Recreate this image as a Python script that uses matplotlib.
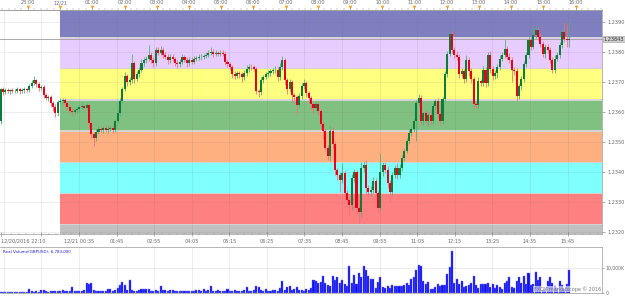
import numpy as np
import matplotlib
matplotlib.use("Agg")
import matplotlib.pyplot as plt
from matplotlib.patches import Rectangle
import matplotlib.transforms as mtransforms

# ---------------- data ----------------
first_open = 1.23571
closes = [
    1.23676, 1.23666, 1.23673, 1.23670, 1.23673, 1.23670, 1.23671, 1.23676, 1.23670, 1.23673, 1.23676,
    1.23673, 1.23686, 1.23696, 1.23706, 1.23693, 1.23680, 1.23683, 1.23657, 1.23647, 1.23650,
    1.23630, 1.23617, 1.23597, 1.23634, 1.23637, 1.23640, 1.23630, 1.23617, 1.23604, 1.23601,
    1.23607, 1.23610, 1.23617, 1.23620, 1.23614, 1.23624, 1.23564, 1.23528, 1.23515, 1.23535,
    1.23545, 1.23541, 1.23548, 1.23541, 1.23545, 1.23548, 1.23541, 1.23571, 1.23597, 1.23637,
    1.23676, 1.23719, 1.23699, 1.23706, 1.23762, 1.23712, 1.23726, 1.23742, 1.23762, 1.23772,
    1.23778, 1.23791, 1.23775, 1.23762, 1.23808, 1.23798, 1.23808, 1.23791, 1.23785, 1.23772,
    1.23785, 1.23778, 1.23765, 1.23759, 1.23768, 1.23782, 1.23775, 1.23762, 1.23775, 1.23768,
    1.23778, 1.23780, 1.23782, 1.23785, 1.23788, 1.23791, 1.23798, 1.23801, 1.23795, 1.23798, 1.23795,
    1.23798, 1.23795, 1.23768, 1.23759, 1.23749, 1.23726, 1.23722, 1.23729, 1.23726, 1.23716,
    1.23729, 1.23745, 1.23752, 1.23749, 1.23745, 1.23670, 1.23666, 1.23706, 1.23716, 1.23726,
    1.23732, 1.23736, 1.23739, 1.23742, 1.23716, 1.23749, 1.23772, 1.23706, 1.23676, 1.23699, 1.23657,
    1.23650, 1.23624, 1.23653, 1.23686, 1.23696, 1.23663, 1.23647, 1.23627, 1.23614, 1.23627,
    1.23604, 1.23561, 1.23538, 1.23482, 1.23453, 1.23538, 1.23495, 1.23407, 1.23390, 1.23374,
    1.23397, 1.23331, 1.23308, 1.23291, 1.23380, 1.23400, 1.23281, 1.23268, 1.23413, 1.23423,
    1.23347, 1.23334, 1.23341, 1.23370, 1.23331, 1.23281, 1.23400, 1.23423, 1.23407, 1.23364,
    1.23334, 1.23390, 1.23416, 1.23390, 1.23416, 1.23449, 1.23472, 1.23505, 1.23532, 1.23545,
    1.23571, 1.23630, 1.23647, 1.23571, 1.23597, 1.23571, 1.23591, 1.23571, 1.23620, 1.23637,
    1.23594, 1.23571, 1.23643, 1.23726, 1.23795, 1.23861, 1.23808, 1.23791, 1.23785, 1.23726,
    1.23736, 1.23709, 1.23775, 1.23736, 1.23709, 1.23627, 1.23624, 1.23703, 1.23696,
    1.23742, 1.23696, 1.23791, 1.23745, 1.23719, 1.23729, 1.23752, 1.23778, 1.23791,
    1.23811, 1.23785, 1.23775, 1.23742, 1.23736, 1.23653, 1.23686, 1.23709, 1.23759, 1.23791,
    1.23841, 1.23818, 1.23857, 1.23874, 1.23851, 1.23828, 1.23795, 1.23818, 1.23808,
    1.23775, 1.23742, 1.23778, 1.23791, 1.23824, 1.23867, 1.23844, 1.23841, 1.23843,
]
upper_wick_pips = [
    0.5, 0.8, 0.6, 0.8, 0.5, 0.7, 0.6, 0.9, 0.6, 0.8, 0.7,
    0.6, 0.9, 1.0, 1.3, 0.6, 0.8, 0.7, 0.9, 0.6, 0.8,
    0.7, 0.6, 0.9, 0.8, 1.0, 0.7, 0.6, 0.8, 0.7, 0.9,
    0.8, 0.6, 0.7, 0.9, 0.8, 0.6, 0.5, 0.7, 0.6, 0.9,
    0.8, 1.0, 0.7, 0.8, 0.9, 0.6, 0.8, 0.7, 0.9, 1.0,
    0.8, 1.5, 0.9, 1.0, 3.0, 0.8, 1.2, 0.9, 1.5, 1.0,
    0.8, 3.3, 1.0, 0.8, 1.0, 0.9, 1.1, 0.8, 1.0, 0.7,
    0.9, 0.8, 0.7, 1.0, 0.8, 1.2, 0.9, 0.7, 1.0, 0.8,
    0.9, 0.8, 1.0, 0.8, 0.7, 0.9, 1.0, 1.6, 0.8, 0.9, 0.7,
    0.8, 1.0, 0.7, 0.9, 0.8, 0.7, 1.0, 0.8, 0.9, 0.7,
    1.0, 1.2, 0.9, 0.8, 0.7, 0.6, 0.8, 1.0, 0.9, 0.8,
    1.0, 0.9, 0.9, 1.2, 0.8, 1.5, 1.6, 0.7, 0.8, 1.0, 0.9,
    0.8, 0.7, 1.0, 1.0, 1.3, 0.8, 0.9, 0.7, 0.8, 1.0,
    0.8, 0.7, 0.9, 0.8, 1.0, 1.5, 1.2, 0.9, 0.8, 1.0,
    3.3, 0.9, 1.0, 0.8, 1.5, 1.2, 0.9, 1.0, 2.0, 1.6,
    1.8, 1.0, 1.2, 1.5, 1.0, 0.8, 6.3, 1.2, 1.0, 1.5,
    1.0, 1.2, 1.0, 1.5, 1.2, 1.0, 0.9, 1.0, 1.2, 0.8,
    1.0, 0.9, 1.2, 1.0, 0.8, 1.0, 0.9, 1.2, 1.0, 0.8,
    1.0, 1.1, 0.9, 1.0, 0.9, 0.7, 1.0, 1.0, 1.2, 0.9,
    1.0, 0.8, 1.6, 1.0, 1.2, 0.9, 1.0, 1.5, 0.9,
    1.2, 0.9, 1.0, 1.3, 0.9, 1.0, 0.8, 1.2, 1.0,
    3.3, 1.0, 1.2, 0.9, 1.0, 1.0, 0.9, 1.2, 1.0, 1.0,
    0.9, 1.0, 2.6, 1.6, 1.0, 1.2, 0.9, 1.0, 0.8,
    1.0, 0.9, 1.2, 1.0, 0.9, 1.0, 3.3, 5.0, 5.6,
]
lower_wick_pips = [
    1.0, 0.8, 0.7, 0.6, 0.8, 0.7, 0.7, 0.6, 0.9, 0.7, 0.8,
    0.7, 0.6, 0.5, 0.6, 0.8, 0.9, 0.7, 1.0, 0.8, 0.9,
    1.0, 1.2, 1.3, 0.8, 0.7, 0.9, 1.0, 1.0, 0.8, 0.9,
    0.7, 0.8, 0.9, 0.6, 0.8, 0.7, 1.5, 1.5, 2.6, 1.0,
    0.9, 0.8, 1.0, 0.8, 0.9, 0.7, 1.0, 0.8, 0.7, 0.9,
    0.8, 0.7, 1.2, 0.9, 0.8, 1.5, 0.9, 0.8, 0.7, 0.8,
    0.9, 0.8, 1.0, 1.2, 0.7, 0.9, 0.8, 1.0, 0.9, 1.1,
    0.8, 0.9, 1.0, 1.2, 0.8, 0.7, 0.9, 1.0, 0.8, 0.9,
    0.8, 0.8, 0.7, 0.9, 0.8, 0.7, 0.8, 0.9, 1.0, 0.8, 0.9,
    0.9, 0.8, 1.2, 1.0, 1.0, 1.3, 1.0, 0.9, 1.2, 1.5,
    0.8, 0.9, 1.0, 0.8, 0.9, 1.0, 1.5, 0.8, 0.9, 0.7,
    0.8, 1.0, 0.9, 0.8, 1.2, 0.9, 0.8, 1.4, 1.6, 1.0, 2.6,
    1.2, 3.0, 1.0, 0.9, 0.8, 1.2, 1.5, 2.0, 1.5, 1.0,
    1.2, 1.6, 2.6, 1.0, 1.3, 1.5, 1.8, 1.5, 1.6, 4.0,
    1.0, 1.2, 2.3, 3.3, 1.5, 1.2, 1.8, 3.6, 1.5, 1.2,
    2.0, 1.5, 1.2, 1.0, 2.0, 1.5, 1.0, 1.2, 1.0, 1.5,
    3.3, 1.2, 1.0, 1.3, 1.0, 1.2, 1.0, 0.9, 1.0, 1.2,
    1.0, 6.6, 1.0, 1.5, 1.2, 1.5, 1.8, 1.2, 1.0, 1.3,
    1.2, 1.5, 1.0, 0.9, 0.8, 0.7, 1.0, 1.2, 1.0, 1.3,
    1.0, 1.2, 1.0, 1.4, 1.2, 1.3, 1.0, 1.2, 1.0,
    1.0, 1.2, 1.0, 1.4, 1.2, 1.0, 1.5, 1.2, 0.9,
    1.0, 1.2, 1.0, 4.0, 1.2, 1.5, 1.0, 1.2, 0.9, 1.0,
    1.0, 1.2, 0.9, 1.0, 1.2, 1.0, 1.3, 1.5, 1.0,
    1.2, 1.0, 1.2, 0.9, 1.0, 1.2, 1.0, 2.3, 2.3,
]
volumes_k = [
    400, 300, 500, 300, 400, 300, 500, 400, 300, 600,
    400, 500, 1600, 800, 600, 700, 500, 1200, 1200, 900,
    600, 700, 1000, 900, 1000, 800, 1200, 900, 1000, 700,
    2400, 800, 1000, 900, 700, 1100, 4000, 3800, 4000, 1200,
    1000, 900, 800, 1000, 700, 1500, 1700, 1000, 1400, 2000,
    3400, 4400, 3200, 1400, 5200, 1200, 1000, 900, 1400, 1500,
    1600, 1500, 1600, 1000, 900, 1200, 800, 2800, 1400, 1200,
    1000, 1400, 1200, 1000, 900, 700, 1000, 800, 900, 700,
    1000, 800, 1200, 1100, 900, 1500, 1000, 1200, 2800, 1000,
    900, 1100, 800, 900, 1000, 1600, 1000, 900, 1100, 800,
    700, 900, 1200, 2400, 1000, 900, 1200, 2800, 2600, 1200,
    900, 1600, 1000, 900, 1100, 1300, 1000, 2000, 4800, 1200,
    2400, 2800, 1400, 1600, 2400, 1100, 1300, 1000, 1600, 1200,
    2000, 5200, 4800, 4000, 4400, 6800, 4000, 3200, 3000, 6800,
    5200, 6400, 4000, 5200, 3600, 2800, 10800, 4000, 7200, 3600,
    8000, 6400, 10800, 9200, 6800, 5600, 5600, 2000, 4400, 6400,
    2400, 2000, 2800, 2000, 3200, 2800, 2800, 2800, 2800, 3200,
    4000, 3200, 5600, 6400, 9200, 11200, 10800, 4800, 3600, 4400,
    1600, 1600, 2400, 3600, 3000, 3200, 3200, 7600, 10400, 17000,
    4000, 5600, 3600, 4800, 2400, 2800, 3200, 4000, 6800, 3200,
    2000, 3600, 3600, 3600, 4000, 2400, 3600, 2000, 3200, 2400,
    1600, 4000, 4800, 6400, 2400, 2000, 4800, 6400, 4000, 6800,
    3600, 8000, 3200, 3600, 8400, 5200, 6400, 1200, 1200, 4800,
    6400, 4000, 2800, 2000, 4800, 3200, 1600, 3600, 9200,
]
first_candle_minute = -111   # minutes from 12/21 00:00
last_candle_minute = 948
current_price = 1.23843
volume_text = "Real Volume(GBPUSD): 6,783,000"

band_edges = [1.23195, 1.23226, 1.23329, 1.23433, 1.23537, 1.23641, 1.23745, 1.23849, 1.23935]
band_colors = ["#c0c0c0", "#ff8080", "#80ffff", "#ffb080", "#80c080", "#ffff80", "#e6ccff", "#7f7fbf"]

price_ticks = [1.2320, 1.2330, 1.2340, 1.2350, 1.2360, 1.2370, 1.2380, 1.2390]
price_labels = ["1.2320", "1.2330", "1.2340", "1.2350", "1.2360", "1.2370", "1.2380", "1.2390"]

top_tick_minutes = [-60, 0, 60, 120, 180, 240, 300, 360, 420, 480, 540, 600, 660, 720, 780, 840, 900, 960]
top_tick_labels = ["23:00", "12/21", "01:00", "02:00", "03:00", "04:00", "05:00", "06:00", "07:00",
                   "08:00", "09:00", "10:00", "11:00", "12:00", "13:00", "14:00", "15:00", "16:00"]
bottom_tick_minutes = [-110, -35, 35, 105, 175, 245, 315, 385, 455, 525, 595, 665, 735, 805, 875, 945]
bottom_tick_labels = ["12/20/2016 22:10", "", "12/21 00:35", "01:45", "02:55", "04:05", "05:15", "06:25",
                      "07:35", "08:45", "09:55", "11:05", "12:15", "13:25", "14:35", "15:45"]

# ---------------- derived ----------------
n = min(len(closes), len(upper_wick_pips), len(lower_wick_pips), len(volumes_k))
closes = np.array(closes[:n])
uw = np.array(upper_wick_pips[:n])
lw = np.array(lower_wick_pips[:n])
vols = np.array(volumes_k[:n])
opens = np.concatenate([[first_open], closes[:-1]])
highs = np.maximum(opens, closes) + uw / 10000.0
lows = np.minimum(opens, closes) - lw / 10000.0
t = np.linspace(first_candle_minute, last_candle_minute, n)
step = t[1] - t[0]
up = closes >= opens

XMIN, XMAX = -112, 1009
YMIN, YMAX = 1.23195, 1.23935

fig = plt.figure(figsize=(6.25, 2.96), dpi=100)
fig.patch.set_facecolor("white")
ax = fig.add_axes([0.0, 0.2095, 0.963, 0.7568])
axv = fig.add_axes([0.0, 0.0101, 0.963, 0.155])

txt = "#6a6a6a"
fs = 3.6

# bands
ax.add_patch(Rectangle((0, YMIN), XMAX, YMAX - YMIN, facecolor="#d4d4d4", edgecolor="none", zorder=0))
gap = 0.000025
for i, c in enumerate(band_colors):
    lo = band_edges[i] + (gap if i > 0 else 0)
    hi = band_edges[i + 1] - (gap if i < len(band_colors) - 1 else 0)
    ax.add_patch(Rectangle((0, lo), XMAX, hi - lo, facecolor=c, edgecolor="none", zorder=0.5))

# grid
for m in range(-105, 1010, 70):
    ax.axvline(m, color="#707070", lw=0.5, alpha=0.18, zorder=1)
    axv.axvline(m, color="#707070", lw=0.5, alpha=0.18, zorder=0)
for p in price_ticks:
    ax.axhline(p, color="#707070", lw=0.5, alpha=0.15, zorder=1)

# current price line
ax.axhline(current_price, color="#9a9a9a", lw=0.6, zorder=1.5)

# candles
green, red = "#0b7d3a", "#e60019"
green_w, red_w = "#5aae78", "#f0707c"
ax.vlines(t[up], lows[up], highs[up], color=green_w, lw=0.6, zorder=2)
ax.vlines(t[~up], lows[~up], highs[~up], color=red_w, lw=0.6, zorder=2)
bw = step * 0.85
body_h = np.abs(closes - opens)
body_h = np.maximum(body_h, 0.000012)
ax.bar(t[up], body_h[up], bottom=np.minimum(opens, closes)[up], width=bw, color=green,
       edgecolor="none", zorder=3)
ax.bar(t[~up], body_h[~up], bottom=np.minimum(opens, closes)[~up], width=bw, color=red,
       edgecolor="none", zorder=3)

ax.set_xlim(XMIN, XMAX)
ax.set_ylim(YMIN, YMAX)

# right axis
ax.yaxis.tick_right()
ax.set_yticks(price_ticks)
ax.set_yticklabels(price_labels)
ax.tick_params(axis="y", labelsize=fs, colors=txt, length=2, width=0.4, pad=2)
ax.set_yticks(np.arange(1.2320, 1.2394, 0.0002), minor=True)
ax.tick_params(axis="y", which="minor", length=1, width=0.3, colors="#888888")

# bottom time axis
ax.set_xticks(bottom_tick_minutes)
ax.set_xticklabels(bottom_tick_labels)
ax.tick_params(axis="x", labelsize=fs, colors=txt, length=2.5, width=0.4, pad=2, direction="inout")
ax.set_xticks(np.arange(-105, 1010, 14), minor=True)
ax.tick_params(axis="x", which="minor", length=1.5, width=0.3, colors="#888888", direction="inout")
for lab in ax.get_xticklabels():
    lab.set_color(txt)
ax.get_xticklabels()[0].set_horizontalalignment("left")

# top axis
sec = ax.secondary_xaxis("top")
sec.set_xticks(top_tick_minutes)
sec.set_xticklabels(top_tick_labels)
sec.tick_params(axis="x", labelsize=fs, colors=txt, length=2, width=0.4, pad=1.5)
sec.set_xticks(np.arange(-108, 1010, 12), minor=True)
sec.tick_params(axis="x", which="minor", length=1.2, width=0.3, colors="#888888")
sec.spines["top"].set_color("#9a9a9a")
sec.spines["top"].set_linewidth(0.5)
trans = mtransforms.blended_transform_factory(ax.transData, ax.transAxes)
ax.plot(top_tick_minutes, [1.012] * len(top_tick_minutes), linestyle="none", marker="v",
        markersize=2.6, color="#f0a020", markeredgewidth=0, transform=trans, clip_on=False, zorder=5)

ax.spines["left"].set_visible(False)
for s in ["right", "top", "bottom"]:
    ax.spines[s].set_color("#9a9a9a")
    ax.spines[s].set_linewidth(0.5)

# current price label
ax.text(1.003, current_price, "1.23843", transform=mtransforms.blended_transform_factory(ax.transAxes, ax.transData),
        fontsize=fs, color="#333333", va="center", ha="left",
        bbox=dict(boxstyle="square,pad=0.15", facecolor="#d0d0d0", edgecolor="#9a9a9a", linewidth=0.4),
        clip_on=False)

# volume panel
axv.bar(t, vols, width=bw, color="#1010ee", edgecolor="#7070ff", linewidth=0.3, zorder=2)
axv.set_xlim(XMIN, XMAX)
axv.set_ylim(0, 18400)
axv.axhline(10000, color="#707070", lw=0.5, alpha=0.18, zorder=0)
axv.yaxis.tick_right()
axv.set_yticks([0, 10000])
axv.set_yticklabels(["0", "10,000K"])
axv.tick_params(axis="y", labelsize=3.3, colors=txt, length=1.5, width=0.4, pad=1)
axv.set_yticks(np.arange(0, 18400, 2000), minor=True)
axv.tick_params(axis="y", which="minor", length=1, width=0.3, colors="#888888")
axv.set_xticks([])
axv.spines["left"].set_visible(False)
for s in ["right", "top", "bottom"]:
    axv.spines[s].set_color("#9a9a9a")
    axv.spines[s].set_linewidth(0.5)
axv.text(0.005, 0.93, volume_text, transform=axv.transAxes, fontsize=2.9, color="#2020cc",
         va="top", ha="left")
axv.text(0.998, 0.02, "FXCM marketscope \u00a9 2016", transform=axv.transAxes, fontsize=3.5,
         color="#777777", va="bottom", ha="right",
         bbox=dict(boxstyle="square,pad=0.05", facecolor="white", edgecolor="none", alpha=0.6))

fig.savefig("out.png", dpi=100)
